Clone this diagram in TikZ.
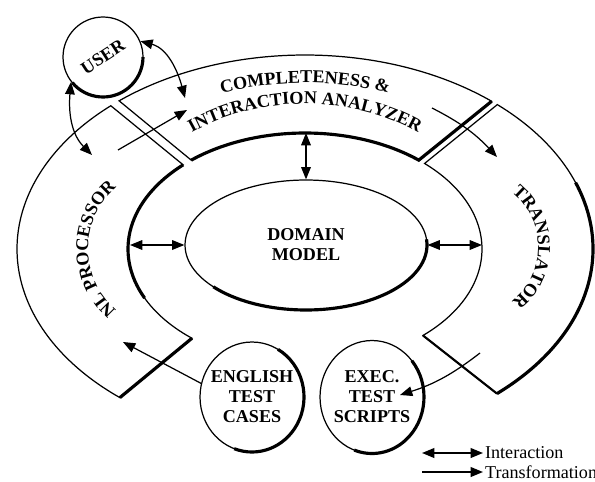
\documentclass[tikz,border=0pt]{standalone}
\usepackage{fontspec}
\setmainfont{Liberation Serif}
\usetikzlibrary{arrows.meta,decorations.text,shapes.geometric}

\newcommand{\lblfont}{\fontsize{10.3}{11.4}\selectfont\bfseries}
\newcommand{\legfont}{\fontsize{10.3}{11.4}\selectfont}

\tikzset{
  thinline/.style={line width=0.7pt},
  thickline/.style={line width=1.8pt},
  blob/.style={ellipse,draw,line width=0.7pt,inner sep=-6pt,align=center,font=\lblfont},
  flow/.style={-{Triangle[length=7pt,width=5.5pt]},line width=0.7pt},
  talk/.style={{Triangle[length=7pt,width=5.5pt]}-{Triangle[length=7pt,width=5.5pt]},line width=0.7pt},
  ringtext/.style={decorate,decoration={text along path,text align=center,text={#1}}},
}

\begin{document}
\begin{tikzpicture}[x=0.02cm,y=0.02cm]
\useasboundingbox (0,0) rectangle (595,481);

% the ring of three tools round the domain model
\begin{scope}[shift={(305,232)}]
  % NL processor
  \draw[thinline] (132.4:288 and 194) arc[start angle=132.4,end angle=230,x radius=288,y radius=194]
    -- (230.3:177 and 116) arc[start angle=230.3,end angle=133.5,x radius=177,y radius=116] -- cycle;
  \draw[thickline] (230:288 and 194) -- (230.3:177 and 116);
  \draw[thickline] (133.5:177 and 116) arc[start angle=133.5,end angle=205,x radius=177,y radius=116];
  % completeness & interaction analyzer
  \draw[thinline] (130.2:288 and 194) arc[start angle=130.2,end angle=49.6,x radius=288,y radius=194]
    -- (50:177 and 116) arc[start angle=50,end angle=130,x radius=177,y radius=116] -- cycle;
  \draw[thickline] (49.6:288 and 194) -- (50:177 and 116) arc[start angle=50,end angle=130,x radius=177,y radius=116];
  % translator
  \draw[thinline] (48.1:288 and 194) arc[start angle=48.1,end angle=-48.2,x radius=288,y radius=194]
    -- (-48.2:177 and 116) arc[start angle=-48.2,end angle=47.5,x radius=177,y radius=116] -- cycle;
  \draw[thickline] (20:288 and 194) arc[start angle=20,end angle=-48.2,x radius=288,y radius=194];
  \draw[line width=1.2pt] (-48.2:288 and 194) -- (-48.2:177 and 116);

  \path[ringtext={|\lblfont|COMPLETENESS {\&}}] (150:240 and 166) arc[start angle=150,end angle=30,x radius=240,y radius=166];
  \path[ringtext={|\lblfont|INTERACTION ANALYZER}] (160:190 and 145) arc[start angle=160,end angle=20,x radius=190,y radius=145];

  \coordinate (in-w) at (-175,4);
  \coordinate (in-e) at (177,4);
  \coordinate (in-n) at (1,116);
\end{scope}

\path[ringtext={|\lblfont|NL PROCESSOR}] (169,232) ++(240:81) arc[start angle=240,end angle=120,radius=81];
\path[ringtext={|\lblfont|TRANSLATOR}] (468,234) ++(60:70) arc[start angle=60,end angle=-60,radius=70];

% domain model and the outside parties
\node[blob,minimum width=4.84cm,minimum height=2.6cm] (domain) at (306,236) {DOMAIN\\MODEL};
\node[blob,circle,minimum size=1.6cm] (user) at (103,424) {\rotatebox{33}{USER}};
\node[blob,minimum width=2.08cm,minimum height=2.2cm] (english) at (252,84) {ENGLISH\\TEST\\CASES};
\node[blob,minimum width=2.08cm,minimum height=2.26cm] (execs) at (372,84) {EXEC.\\TEST\\SCRIPTS};

\draw[thickline] (domain.center) ++(-140:121 and 65) arc[start angle=-140,end angle=5,x radius=121,y radius=65];
\draw[thickline] (user.center) ++(-140:40) arc[start angle=-140,end angle=0,radius=40];
\draw[thickline] (english.center) ++(60:52 and 55) arc[start angle=60,end angle=-110,x radius=52,y radius=55];
\draw[thickline] (execs.center) ++(40:52 and 56.5) arc[start angle=40,end angle=-110,x radius=52,y radius=56.5];

% arrow ends on the ring
\coordinate (ana-user) at (185,383);
\coordinate (nl-user) at (92,326);
\coordinate (nl-out) at (118,331);
\coordinate (ana-in) at (187,371);
\coordinate (ana-out) at (432,373);
\coordinate (tr-in) at (497,324);
\coordinate (tr-out) at (480,128);
\coordinate (exec-in) at (400,86);
\coordinate (nl-in) at (123,139);

\draw[talk] (user.23) to[out=-15,in=105] (ana-user);
\draw[talk] (user.218) to[out=-95,in=135] (nl-user);
\draw[flow] (nl-out) -- (ana-in);
\draw[flow] (ana-out) to[bend left=10] (tr-in);
\draw[flow] (tr-out) to[bend left=10] (exec-in);
\draw[flow] (english.165) -- (nl-in);

\draw[talk] (in-w) -- (domain.west);
\draw[talk] (domain.east) -- (in-e);
\draw[talk] (in-n) -- (domain.north);

% legend
\node[anchor=west,font=\legfont,inner sep=1pt] (leg-int) at (483,28) {Interaction};
\node[anchor=west,font=\legfont,inner sep=1pt] (leg-tra) at (483,9) {Transformation};
\coordinate (leg-int-a) at (422,28);
\coordinate (leg-tra-a) at (422,9);
\draw[talk,line width=1pt] (leg-int-a) -- (leg-int.west);
\draw[flow,line width=1pt] (leg-tra-a) -- (leg-tra.west);
\end{tikzpicture}
\end{document}
